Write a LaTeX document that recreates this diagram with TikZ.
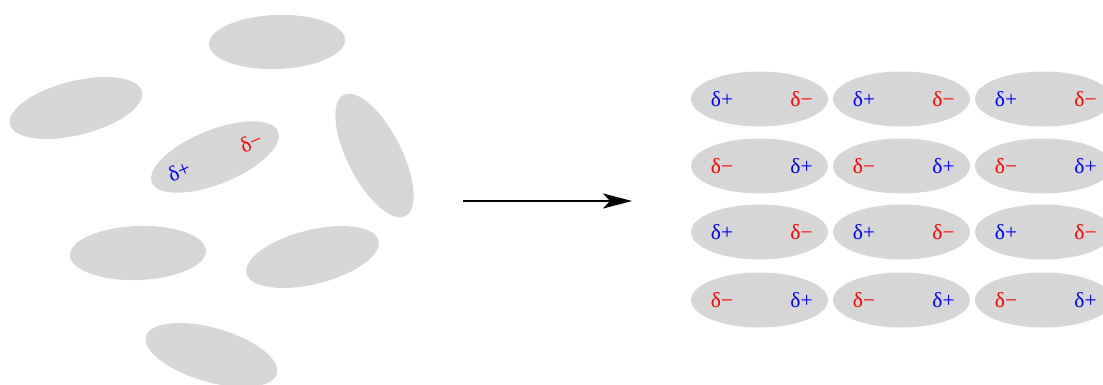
\documentclass[tikz,border=0pt]{standalone}
\usepackage{fontspec}
\setmainfont{Liberation Serif}
\usetikzlibrary{shapes.geometric,arrows.meta,calc}
\definecolor{molgray}{RGB}{214,214,214}
\tikzset{
  x=1pt, y=-1pt,
  mol/.style={ellipse, fill=molgray, inner sep=0pt, minimum width=136pt, minimum height=54pt},
  gridmol/.style={ellipse, fill=molgray, inner sep=0pt, minimum width=137pt, minimum height=55pt},
  chg/.style={inner sep=0pt, font=\fontsize{21.5}{25}\selectfont},
  chgpos/.style={chg, text=blue},
  chgneg/.style={chg, text=red},
}
\begin{document}
\begin{tikzpicture}
\useasboundingbox (0,0) rectangle (1103,385);
\clip (0,0) rectangle (1103,385);

% disordered molecules
\node[mol, rotate=2]   (m1) at (277,42) {};
\node[mol, rotate=14]  (m2) at (76,108) {};
\node[mol, rotate=22]  (m3) at (215,157) {};
\node[mol, rotate=-63] (m4) at (374.5,155.5) {};
\node[mol, rotate=2]   (m5) at (138,253) {};
\node[mol, rotate=14]  (m6) at (312.5,257) {};
\node[mol, rotate=-16] (m7) at (211.5,355) {};
\node[chgpos, rotate=24] (m3p) at ($(m3.center)!0.57!(m3.west)$) {δ+};
\node[chgneg, rotate=24] (m3n) at ($(m3.center)!0.57!(m3.east)$) {δ−};

% arrow
\coordinate (a0) at (463,201);
\coordinate (a1) at (632,201);
\draw[line width=2.5pt, -{Stealth[length=29pt, width=15pt, inset=7pt]}] (a0) -- (a1);

% ordered lattice: rows alternate their orientation
\foreach \r/\y/\sl/\tl/\sr/\tr in {1/99/chgpos/δ+/chgneg/δ−, 2/166/chgneg/δ−/chgpos/δ+,
                                  3/232/chgpos/δ+/chgneg/δ−, 4/300/chgneg/δ−/chgpos/δ+}{
  \foreach \c/\x in {1/759.5, 2/901.5, 3/1043.5}{
    \node[gridmol] (g\r\c) at (\x,\y) {};
    \node[\sl] (g\r\c l) at ($(g\r\c.center)+(-37.5,0)$) {\tl};
    \node[\sr] (g\r\c r) at ($(g\r\c.center)+(42,0)$) {\tr};
  }
}
\end{tikzpicture}
\end{document}
